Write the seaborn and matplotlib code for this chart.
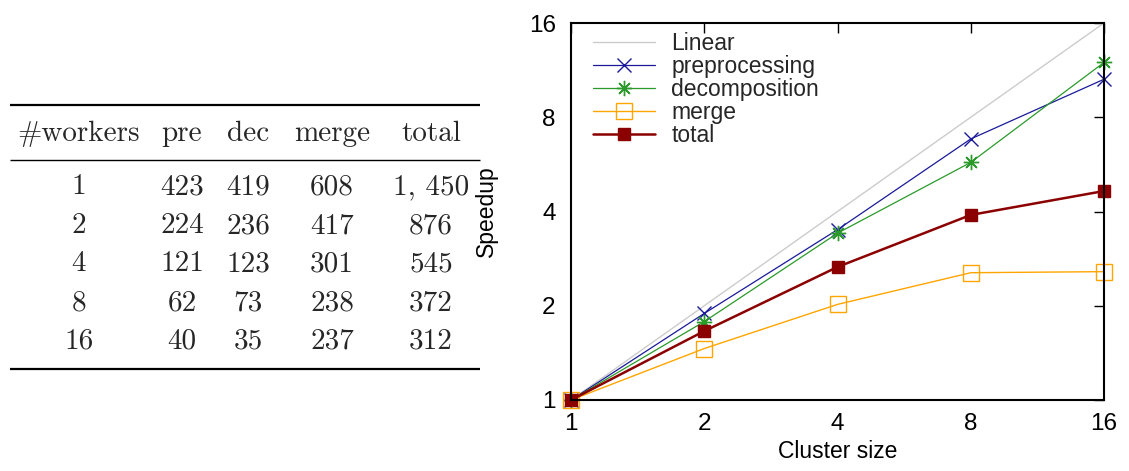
import numpy as np
import pandas as pd
import matplotlib
matplotlib.use("Agg")
import matplotlib.pyplot as plt
import seaborn as sns

# ---- data ----
workers = [1, 2, 4, 8, 16]
pre_time = [423, 224, 121, 62, 40]
dec_time = [419, 236, 123, 73, 35]
merge_time = [608, 417, 301, 238, 237]
total_time = ["1, 450", "876", "545", "372", "312"]
table_header = ["#workers", "pre", "dec", "merge", "total"]

cluster_size = [1, 2, 4, 8, 16]
linear = [1, 2, 4, 8, 16]
sp_pre = [1.0, 1.89, 3.50, 6.82, 10.58]
sp_dec = [1.0, 1.78, 3.41, 5.74, 11.97]
sp_merge = [1.0, 1.46, 2.02, 2.55, 2.57]
sp_total = [1.0, 1.66, 2.66, 3.90, 4.65]
tick_vals = [1, 2, 4, 8, 16]

sns.set_theme(style="white")
plt.rcParams['font.family'] = ['Liberation Sans', 'DejaVu Sans']

W, H = 1129, 471
fig = plt.figure(figsize=(W / 100, H / 100), dpi=100)

# ---- table (pixel coordinate axes) ----
axt = fig.add_axes([0, 0, 1, 1])
axt.set_xlim(0, W)
axt.set_ylim(H, 0)
axt.axis("off")
serif = ['cmr10', 'DejaVu Serif']
col_x = [79, 182, 248, 332, 431]
for x, t in zip(col_x, table_header):
    axt.text(x, 134, t, ha="center", va="center", fontsize=21, family=serif)
row_y = [187, 226, 264, 303, 341]
cols = [[str(v) for v in workers], [str(v) for v in pre_time],
        [str(v) for v in dec_time], [str(v) for v in merge_time], total_time]
for ci, col in enumerate(cols):
    for ri, val in enumerate(col):
        axt.text(col_x[ci], row_y[ri], val, ha="center", va="center",
                 fontsize=21, family=serif)
for y, lw in [(105, 1.6), (160, 1.0), (369, 1.6)]:
    axt.plot([10, 480], [y, y], color="black", lw=lw, solid_capstyle="butt")

# ---- speedup plot ----
ax = fig.add_axes([571 / W, 1 - 400 / H, (1104 - 571) / W, (400 - 23) / H])
series = [
    ("Linear", linear, "#cccccc", None, 1.0, 8, False),
    ("preprocessing", sp_pre, "#1a1a9a", "x", 0.9, 10, False),
    ("decomposition", sp_dec, "#2a9a2a", (8, 2, 0), 0.9, 11, False),
    ("merge", sp_merge, "#ffa500", "s", 1.0, 11, True),
    ("total", sp_total, "#8b0000", "s", 1.8, 9, False),
]
for name, vals, color, marker, lw, ms, hollow in series:
    d = pd.DataFrame({"x": cluster_size, "y": vals})
    kw = dict(marker=marker, markersize=ms, markeredgewidth=1.0)
    if hollow:
        kw.update(markerfacecolor="none", markeredgecolor=color)
    elif marker is not None:
        kw.update(markerfacecolor=color, markeredgecolor=color)
    if marker is None:
        kw = {}
    sns.lineplot(data=d, x="x", y="y", ax=ax, color=color, lw=lw, label=name,
                 clip_on=False, **kw)

ax.set_xscale("log", base=2)
ax.set_yscale("log", base=2)
ax.set_xlim(1, 16)
ax.set_ylim(1, 16)
ax.set_xticks(tick_vals)
ax.set_xticklabels([str(v) for v in tick_vals])
ax.set_yticks(tick_vals)
ax.set_yticklabels([str(v) for v in tick_vals])
ax.minorticks_off()
ax.tick_params(axis="both", direction="in", length=7, width=1, labelsize=17.5,
               top=True, right=True, colors="black")
ax.tick_params(axis="x", pad=9)
ax.tick_params(axis="y", pad=11)
for s in ax.spines.values():
    s.set_color("black")
    s.set_linewidth(1.5)
ax.set_xlabel("Cluster size", fontsize=16.5, labelpad=4, color="black")
ax.set_ylabel("Speedup", fontsize=16.5, color="black")
ax.yaxis.set_label_coords(-0.137, 0.5)
leg = ax.legend(loc="upper left", frameon=False, fontsize=16.5, handlelength=2.7,
                handletextpad=0.7, labelspacing=0.0, borderaxespad=0.3,
                borderpad=0.1, bbox_to_anchor=(0.025, 1.0))

fig.savefig("out.png", dpi=100)
